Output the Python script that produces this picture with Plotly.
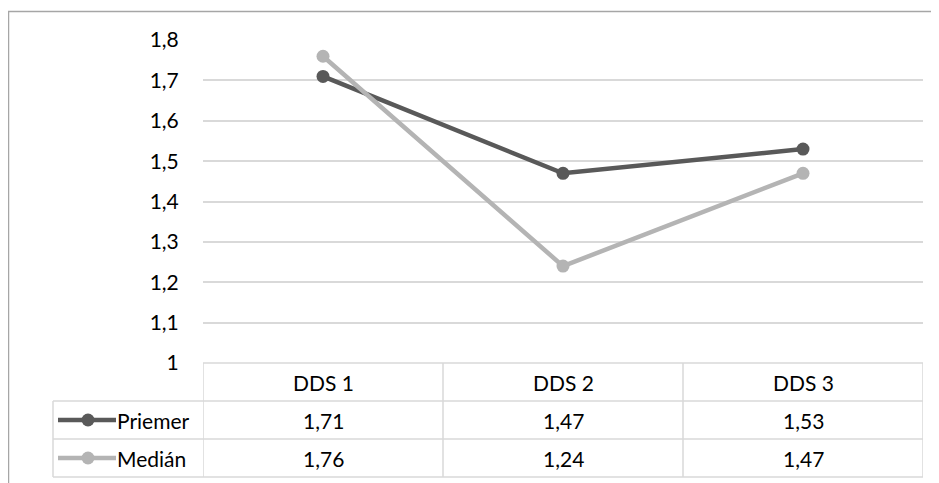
import plotly.graph_objects as go

categories = ["DDS 1", "DDS 2", "DDS 3"]
series_names = ["Priemer", "Medián"]
priemer = [1.71, 1.47, 1.53]
median = [1.76, 1.24, 1.47]
y_ticks = [1.0, 1.1, 1.2, 1.3, 1.4, 1.5, 1.6, 1.7, 1.8]

colors = ["#595959", "#b4b4b4"]
series_values = [priemer, median]

# page is rendered with an 8px body margin; work in page pixels and convert
OFF = 8
PW, PH = 939, 483
W, H = PW - OFF, PH - OFF
L_PX, R_PX, T_PX, B_PX = 203, 923, 40, 363  # plot area in page pixels
ML, MR, MT, MB = L_PX - OFF, PW - R_PX, T_PX - OFF, PH - B_PX
pw = R_PX - L_PX
ph = B_PX - T_PX

def px_x(px):
    return (px - L_PX) / pw

def px_y(py):
    return (B_PX - py) / ph

FONT = "Lato"
FS = 21
TXT = "#000000"
GRID = "#d9d9d9"

fig = go.Figure()
for name, vals, col in zip(series_names, series_values, colors):
    fig.add_trace(go.Scatter(
        x=list(range(len(categories))), y=vals, name=name, mode="lines+markers",
        line=dict(color=col, width=4.5), marker=dict(color=col, size=13),
        hoverinfo="skip", showlegend=False, cliponaxis=False))

shapes = []
annotations = []

# table geometry (page pixels)
row_edges = [363, 401, 439, 477]
legend_left = 53
n = len(categories)
shapes.append(dict(type="line", xref="x", yref="paper", x0=-0.5, x1=n - 0.5,
                   y0=px_y(row_edges[0]), y1=px_y(row_edges[0]), line=dict(color=GRID, width=1.5)))
for r in row_edges[1:]:
    shapes.append(dict(type="line", xref="paper", yref="paper", x0=px_x(legend_left), x1=1,
                       y0=px_y(r), y1=px_y(r), line=dict(color=GRID, width=1.5)))
for i in range(n + 1):
    shapes.append(dict(type="line", xref="x", yref="paper", x0=i - 0.5, x1=i - 0.5,
                       y0=px_y(row_edges[0]), y1=px_y(row_edges[-1]), line=dict(color=GRID, width=1.5)))
shapes.append(dict(type="line", xref="paper", yref="paper", x0=px_x(legend_left), x1=px_x(legend_left),
                   y0=px_y(row_edges[1]), y1=px_y(row_edges[-1]), line=dict(color=GRID, width=1.5)))

hy = px_y((row_edges[0] + row_edges[1]) / 2)
for i, c in enumerate(categories):
    annotations.append(dict(x=i, y=hy, xref="x", yref="paper", text=c, showarrow=False,
                            font=dict(family=FONT, size=FS, color=TXT), xanchor="center", yanchor="middle"))
for k, (name, vals, col) in enumerate(zip(series_names, series_values, colors)):
    cy = px_y((row_edges[k + 1] + row_edges[k + 2]) / 2)
    for i, v in enumerate(vals):
        annotations.append(dict(x=i, y=cy, xref="x", yref="paper",
                                text=f"{v:.2f}".replace(".", ","), showarrow=False,
                                font=dict(family=FONT, size=FS, color=TXT), xanchor="center", yanchor="middle"))
    shapes.append(dict(type="line", xref="paper", yref="paper", x0=px_x(58), x1=px_x(116),
                       y0=cy, y1=cy, line=dict(color=col, width=4.5)))
    shapes.append(dict(type="circle", xref="paper", yref="paper", xsizemode="pixel", ysizemode="pixel",
                       xanchor=px_x(88), yanchor=cy, x0=-6.5, x1=6.5, y0=-6.5, y1=6.5,
                       fillcolor=col, line=dict(width=0)))
    annotations.append(dict(x=px_x(116), y=cy, xref="paper", yref="paper", text=name, showarrow=False,
                            font=dict(family=FONT, size=FS, color=TXT), xanchor="left", yanchor="middle",
                            xshift=-1))

# outer border (left and top)
shapes.append(dict(type="line", xref="paper", yref="paper", x0=px_x(8.5), x1=px_x(8.5),
                   y0=px_y(11), y1=px_y(PH + 5), line=dict(color="#a6a6a6", width=1.5)))
shapes.append(dict(type="line", xref="paper", yref="paper", x0=px_x(8), x1=px_x(PW + 5),
                   y0=px_y(11.5), y1=px_y(11.5), line=dict(color="#a6a6a6", width=1.5)))

fig.update_layout(
    width=W, height=H, margin=dict(l=ML, r=MR, t=MT, b=MB, pad=0),
    paper_bgcolor="white", plot_bgcolor="white", separators=",.",
    font=dict(family=FONT, size=FS, color=TXT),
    shapes=shapes, annotations=annotations,
    xaxis=dict(range=[-0.5, n - 0.5], showticklabels=False, showgrid=False, zeroline=False,
               showline=False, fixedrange=True),
    yaxis=dict(range=[1.0, 1.8002], tickvals=y_ticks, showgrid=True, gridcolor=GRID, gridwidth=1.5,
               zeroline=False, showline=False, ticks="outside", ticklen=19,
               tickcolor="rgba(0,0,0,0)", tickfont=dict(family=FONT, size=FS, color=TXT),
               fixedrange=True),
)

fig.write_html("out.html")
